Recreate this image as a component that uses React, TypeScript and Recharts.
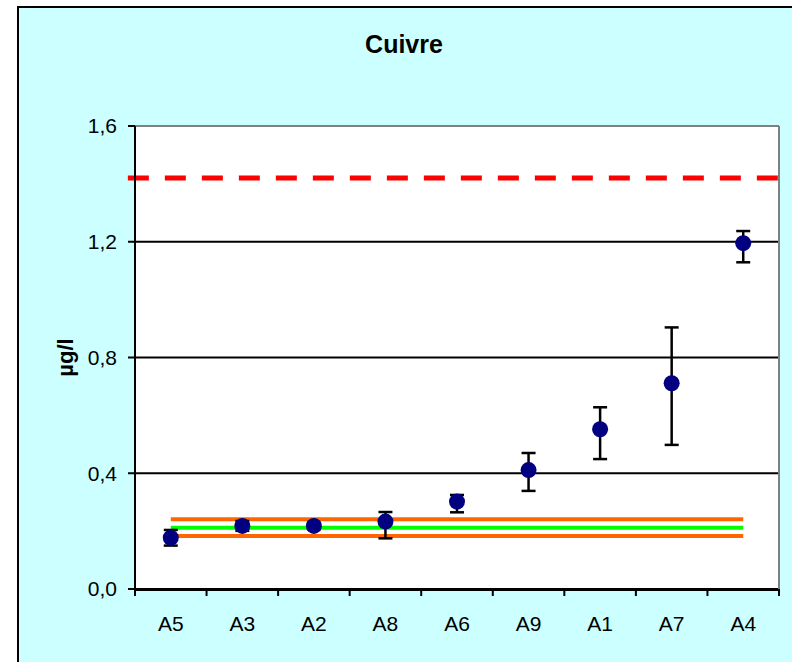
import {
  CartesianGrid,
  ComposedChart,
  ErrorBar,
  Line,
  ReferenceLine,
  XAxis,
  YAxis,
} from "recharts";

const SITES = ["A5", "A3", "A2", "A8", "A6", "A9", "A1", "A7", "A4"];
const MEANS = [0.177, 0.218, 0.218, 0.233, 0.302, 0.411, 0.552, 0.711, 1.195];
const LOWS = [0.15, 0.201, 0.206, 0.175, 0.265, 0.339, 0.449, 0.498, 1.129];
const HIGHS = [0.204, 0.235, 0.229, 0.266, 0.325, 0.47, 0.628, 0.904, 1.237];

// background band (orange limits + green reference)
const BG_LOW = 0.183;
const BG_MID = 0.212;
const BG_HIGH = 0.241;

// red dashed threshold, drawn a little past both plot edges
const LIMIT = 1.42;
const LIMIT_SPAN = [-0.1, 9.1];

const Y_TICKS = [0, 0.4, 0.8, 1.2, 1.6];
const EDGE_TICKS = [0, 1, 2, 3, 4, 5, 6, 7, 8, 9];

const NAVY = "#000080";
const ORANGE = "#FF6600";
const GREEN = "#00FF00";
const FONT = "Arial, 'Liberation Sans', sans-serif";

const rows = SITES.map((name, i) => ({
  name,
  slot: i + 0.5,
  mean: MEANS[i],
  err: [MEANS[i] - LOWS[i], HIGHS[i] - MEANS[i]],
  low: BG_LOW,
  mid: BG_MID,
  high: BG_HIGH,
}));

const tickStyle = { fontSize: 21, fontFamily: FONT, fill: "#000" };

const NoLabel = () => <g />;

export default function App() {
  return (
    <div
      style={{
        position: "absolute",
        left: 0,
        top: 0,
        width: 792,
        height: 662,
        overflow: "hidden",
        background: "#fff",
      }}
    >
      <div
        style={{
          position: "absolute",
          left: 17,
          top: 6,
          width: 820,
          height: 700,
          border: "2px solid #000",
          background: "#CCFFFF",
        }}
      />
      <div
        style={{
          position: "absolute",
          left: 0,
          top: 32,
          width: 808,
          textAlign: "center",
          fontFamily: FONT,
          fontWeight: "bold",
          fontSize: 25,
          lineHeight: "25px",
        }}
      >
        Cuivre
      </div>
      <div style={{ position: "absolute", left: 0, top: 0 }}>
        <ComposedChart
          width={792}
          height={662}
          data={rows}
          margin={{ top: 125, right: 12, bottom: 22, left: 15 }}
        >
          <CartesianGrid
            vertical={false}
            stroke="#000"
            strokeWidth={2}
            fill="#fff"
            fillOpacity={1}
          />
          {/* tick marks between categories, Excel style */}
          <XAxis
            dataKey="slot"
            type="number"
            domain={[0, 9]}
            allowDataOverflow
            ticks={EDGE_TICKS}
            tick={NoLabel}
            axisLine={false}
            tickLine={{ stroke: "#000", strokeWidth: 2 }}
            tickSize={7}
            height={1}
          />
          <XAxis
            xAxisId="cat"
            dataKey="name"
            scale="band"
            interval={0}
            tickLine={false}
            tickSize={7}
            tickMargin={19}
            axisLine={{ stroke: "#000", strokeWidth: 2 }}
            tick={tickStyle}
            height={50}
          />
          <XAxis
            xAxisId="top"
            orientation="top"
            height={1}
            tick={NoLabel}
            tickLine={false}
            axisLine={{ stroke: "#808080", strokeWidth: 2 }}
          />
          <YAxis
            domain={[0, 1.6]}
            ticks={Y_TICKS}
            width={120}
            tickSize={7}
            tickMargin={11}
            tickFormatter={(v: number) => v.toFixed(1).replace(".", ",")}
            axisLine={{ stroke: "#000", strokeWidth: 2 }}
            tickLine={{ stroke: "#000", strokeWidth: 2 }}
            tick={tickStyle}
            label={{
              value: "µg/l",
              angle: -90,
              position: "insideLeft",
              offset: 50,
              style: {
                textAnchor: "middle",
                fontWeight: "bold",
                fontSize: 22,
                fontFamily: FONT,
                fill: "#000",
              },
            }}
          />
          <YAxis
            yAxisId="right"
            orientation="right"
            width={1}
            tick={NoLabel}
            tickLine={false}
            axisLine={{ stroke: "#808080", strokeWidth: 2 }}
          />
          <ReferenceLine
            segment={[
              { x: LIMIT_SPAN[0], y: LIMIT },
              { x: LIMIT_SPAN[1], y: LIMIT },
            ]}
            ifOverflow="visible"
            stroke="#FF0000"
            strokeWidth={5}
            strokeDasharray="21 16"
          />
          <Line xAxisId="cat" dataKey="high" stroke={ORANGE} strokeWidth={4} dot={false} isAnimationActive={false} />
          <Line xAxisId="cat" dataKey="low" stroke={ORANGE} strokeWidth={4} dot={false} isAnimationActive={false} />
          <Line xAxisId="cat" dataKey="mid" stroke={GREEN} strokeWidth={4} dot={false} isAnimationActive={false} />
          <Line
            xAxisId="cat"
            dataKey="mean"
            stroke="none"
            dot={{ r: 8, fill: NAVY, stroke: NAVY, strokeWidth: 0 }}
            isAnimationActive={false}
          >
            <ErrorBar dataKey="err" direction="y" width={7} stroke="#000" strokeWidth={2.5} />
          </Line>
        </ComposedChart>
      </div>
    </div>
  );
}
